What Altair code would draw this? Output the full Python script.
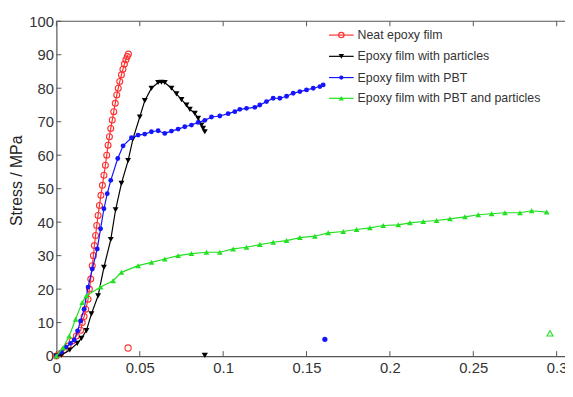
import altair as alt
import pandas as pd

# ---------------- data ----------------
series_names = [
    "Neat epoxy film",
    "Epoxy film with particles",
    "Epoxy film with PBT",
    "Epoxy film with PBT and particles",
]

red_strain = [0, 0.0025, 0.0047, 0.007, 0.0095, 0.012, 0.0146, 0.0155, 0.0166, 0.0176,
              0.019, 0.0198, 0.0206, 0.0215, 0.0222, 0.0228, 0.0235, 0.0242, 0.025, 0.0258,
              0.0267, 0.0276, 0.0285, 0.0294, 0.0302, 0.031, 0.0318, 0.0326, 0.0335, 0.0344,
              0.0353, 0.0362, 0.0371, 0.038, 0.039, 0.0399, 0.0408, 0.0417, 0.0425, 0.0432]
red_stress = [0, 0.8, 1.8, 3, 4.5, 6, 7.7, 10, 11.8, 14,
              17, 20, 23, 27, 30, 33, 36, 39, 42, 45,
              48, 51, 54, 57, 60, 63, 65.5, 68, 70.5, 73,
              75.5, 78, 80, 82, 84, 85.7, 87.2, 88.5, 89.5, 90.2]

black_strain = [0, 0.003, 0.008, 0.0125, 0.015, 0.018, 0.021, 0.025, 0.0285, 0.0326,
                0.0355, 0.039, 0.043, 0.046, 0.050, 0.053, 0.057, 0.061, 0.063, 0.065,
                0.069, 0.072, 0.075, 0.078, 0.080, 0.083, 0.085, 0.087, 0.088, 0.089]
black_stress = [0, 0.3, 1.8, 3.8, 5.3, 7.6, 12.6, 18, 26.5, 34.8,
                43.7, 51.6, 58.4, 65, 71.4, 76.3, 80, 81.7, 81.8, 81.7,
                80, 78.3, 76.6, 75, 73.7, 72.5, 71, 69, 68, 67]

blue_strain = [0, 0.003, 0.0057, 0.0085, 0.0107, 0.0127, 0.0145, 0.0166, 0.019, 0.0215,
               0.0245, 0.0265, 0.0285, 0.0305, 0.0326, 0.0368, 0.040, 0.045, 0.049, 0.053,
               0.057, 0.061, 0.065, 0.069, 0.073, 0.077, 0.081, 0.085, 0.089, 0.093,
               0.098, 0.103, 0.107, 0.110, 0.114, 0.119, 0.122, 0.126, 0.130, 0.134,
               0.138, 0.142, 0.146, 0.150, 0.154, 0.158, 0.160]
blue_stress = [0, 1.2, 2.7, 3.8, 4.8, 7.5, 10.5, 14, 20.6, 26,
               32, 38, 44, 48.5, 52.5, 59, 62.8, 65.2, 66, 66.3,
               67, 67.3, 66.5, 67.2, 67.8, 68.5, 69, 69.8, 70.4, 71.4,
               71.7, 72.4, 73, 73.7, 74, 74.3, 75, 76, 77, 77,
               77.6, 78.5, 79, 79.5, 80, 80.5, 81]

green_strain = [0, 0.004, 0.0077, 0.0115, 0.0155, 0.018, 0.0265, 0.034, 0.039, 0.049,
                0.057, 0.065, 0.073, 0.081, 0.090, 0.098, 0.106, 0.114, 0.122, 0.130,
                0.138, 0.146, 0.155, 0.163, 0.172, 0.180, 0.188, 0.196, 0.205, 0.212,
                0.220, 0.228, 0.236, 0.245, 0.253, 0.261, 0.269, 0.278, 0.285, 0.294]
green_stress = [0, 2.5, 6, 11, 16, 18, 20.6, 22.5, 25, 27,
                28, 29, 30, 30.6, 31, 31, 32, 32.5, 33.3, 34,
                34.5, 35.4, 35.8, 36.8, 37.2, 37.8, 38.3, 39, 39.2, 39.8,
                40.2, 40.5, 41, 41.6, 42.2, 42.5, 42.8, 42.8, 43.4, 43]

# isolated final (failure) markers
end_strain = [0.043, 0.089, 0.161, 0.296]
end_stress = [2.4, 0.2, 5.0, 6.8]

x_ticks = [0, 0.05, 0.1, 0.15, 0.2, 0.25, 0.3]
y_ticks = [0, 10, 20, 30, 40, 50, 60, 70, 80, 90, 100]

# ---------------- style ----------------
colors = ["#ff3030", "#000000", "#1414ff", "#22e022"]
shapes = ["circle", "triangle-down", "circle", "triangle-up"]
filled = [False, True, True, True]
end_filled = [False, True, True, False]
sizes = [36, 36, 24, 34]

W, H = 515, 339
FONT = "Liberation Sans"

x_scale = alt.Scale(domain=[0, 0.305], nice=False, zero=False)
y_scale = alt.Scale(domain=[0, 100], nice=False)

x_axis = alt.Axis(values=x_ticks, format="~g", ticks=False, grid=False,
                  domainColor="#555555", domainWidth=1.2, labelColor="#333333",
                  labelFontSize=15, labelFont=FONT, labelPadding=5, labelFlush=False,
                  title="Strain /ε", titleFont=FONT, titleFontSize=16,
                  titleFontWeight="normal", titleColor="#222222",
                  titleX=251, titleY=363, titleBaseline="top", titleAlign="center")
y_axis = alt.Axis(values=y_ticks, ticks=False, grid=False,
                  domainColor="#555555", domainWidth=1.2, labelColor="#333333",
                  labelFontSize=15, labelFont=FONT, labelPadding=3,
                  title="Stress / MPa", titleFont=FONT, titleFontSize=16,
                  titleFontWeight="normal", titleColor="#222222",
                  titleAngle=270, titleX=-32, titleY=161,
                  titleAlign="center", titleBaseline="bottom")

X = lambda f: alt.X(f, scale=x_scale, axis=x_axis)
Y = lambda f: alt.Y(f, scale=y_scale, axis=y_axis)

all_x = [red_strain, black_strain, blue_strain, green_strain]
all_y = [red_stress, black_stress, blue_stress, green_stress]

layers = []

# frame: top border and inward ticks
layers.append(alt.Chart(pd.DataFrame({"a": [0]})).mark_rule(color="#555555", strokeWidth=1.2)
              .encode(x=alt.value(0), x2=alt.value(W), y=alt.value(0)))
xt = alt.Chart(pd.DataFrame({"t": x_ticks}))
layers.append(xt.mark_rule(color="#555555").encode(x=X("t:Q"), y=alt.value(H), y2=alt.value(H - 5)))
layers.append(xt.mark_rule(color="#555555").encode(x=X("t:Q"), y=alt.value(0), y2=alt.value(5)))
yt = alt.Chart(pd.DataFrame({"t": y_ticks}))
layers.append(yt.mark_rule(color="#555555").encode(y=Y("t:Q"), x=alt.value(0), x2=alt.value(5)))

for i in range(4):
    df = pd.DataFrame({"strain": all_x[i], "stress": all_y[i]})
    base = alt.Chart(df)
    layers.append(base.mark_line(color=colors[i], strokeWidth=1.2)
                  .encode(x=X("strain:Q"), y=Y("stress:Q"), order="strain:Q"))
    layers.append(base.mark_point(shape=shapes[i], filled=filled[i], color=colors[i],
                                  size=sizes[i], opacity=1, strokeWidth=1.1)
                  .encode(x=X("strain:Q"), y=Y("stress:Q")))
    edf = pd.DataFrame({"strain": [end_strain[i]], "stress": [end_stress[i]]})
    layers.append(alt.Chart(edf).mark_point(shape=shapes[i], filled=end_filled[i], color=colors[i],
                                            size=sizes[i] + 4, opacity=1, strokeWidth=1.1)
                  .encode(x=X("strain:Q"), y=Y("stress:Q")))

# legend (layout positions only)
leg_y = [14, 35.5, 57, 78]
for i in range(4):
    ldf = pd.DataFrame({"label": [series_names[i]]})
    lb = alt.Chart(ldf)
    layers.append(lb.mark_rule(color=colors[i], strokeWidth=1.2)
                  .encode(x=alt.value(276), x2=alt.value(301), y=alt.value(leg_y[i])))
    layers.append(lb.mark_point(shape=shapes[i], filled=filled[i], color=colors[i],
                                size=sizes[i] - 6, opacity=1, strokeWidth=1.1)
                  .encode(x=alt.value(288.5), y=alt.value(leg_y[i])))
    layers.append(lb.mark_text(align="left", baseline="middle", font=FONT, fontSize=12.5,
                               color="#333333")
                  .encode(x=alt.value(305), y=alt.value(leg_y[i]), text="label:N"))

chart = (alt.layer(*layers)
         .properties(width=W, height=H, autosize="none",
                     padding={"left": 49, "top": 11, "right": 0, "bottom": 38},
                     background="white")
         .configure_view(stroke=None))

chart.save("out.html", embed_options={"renderer": "svg", "actions": False})
